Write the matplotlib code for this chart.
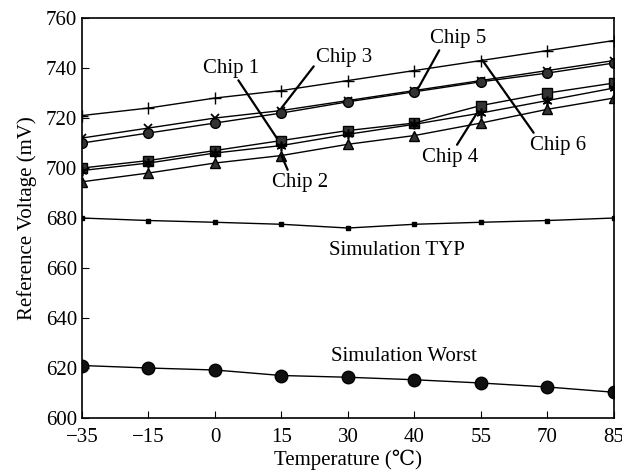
import numpy as np
import matplotlib
matplotlib.use('Agg')
import matplotlib.pyplot as plt

plt.rcParams['font.family'] = ['Liberation Serif', 'DejaVu Serif', 'Noto Sans CJK SC']
plt.rcParams['mathtext.fontset'] = 'stix'

temps = ['\u221235', '\u221215', '0', '15', '30', '40', '55', '70', '85']

chip_plus = [721, 724, 728, 731, 735, 739, 743, 747, 751]
chip_cross = [712, 716, 720, 723, 727, 731, 735, 739, 743]
chip_circle = [710, 714, 718, 722, 726.5, 730.5, 734.5, 738, 742]
chip_square = [700, 703, 707, 711, 715, 718, 725, 730, 734]
chip_star = [699, 702, 706, 709, 713.5, 717.5, 722, 727, 732]
chip_tri = [694.5, 698, 702, 705, 709.5, 713, 718, 723.5, 728]
sim_typ = [680, 679, 678.3, 677.5, 676, 677.5, 678.3, 679, 680]
sim_worst = [621, 620, 619.2, 617, 616.3, 615.3, 614, 612.4, 610.3]

x = np.arange(len(temps))

fig = plt.figure(figsize=(6.22, 4.75), dpi=100)
ax = fig.add_axes([0.1318, 0.12, 0.8552, 0.842])

dark = '#333333'
ax.plot(x, chip_plus, color='black', lw=1, marker='+', ms=8, mew=1)
ax.plot(x, chip_cross, color='black', lw=1, marker='x', ms=6, mew=1.3)
ax.plot(x, chip_circle, color='black', lw=1, marker='o', ms=7, mfc=dark, mec='black')
ax.plot(x, chip_square, color='black', lw=1, marker='s', ms=6.5, mfc=dark, mec='black')
ax.plot(x, chip_star, color='black', lw=1, marker=(6, 2, 0), ms=7, mew=1.2)
ax.plot(x, chip_tri, color='black', lw=1, marker='^', ms=6.5, mfc=dark, mec='black')
ax.plot(x, sim_typ, color='black', lw=1, marker='s', ms=3)
ax.plot(x, sim_worst, color='black', lw=1, marker='o', ms=9, mfc='#111111', mec='black')

fs = 15
arrow = dict(arrowstyle='-', color='black', lw=1.6, shrinkA=0, shrinkB=0)
ax.annotate('Chip 1', xy=(2.93, 712), xytext=(2.24, 740), ha='center', va='center',
            fontsize=fs, arrowprops=dict(arrow, relpos=(0.6, 0)))
ax.annotate('Chip 3', xy=(3.0, 724), xytext=(3.95, 744.4), ha='center', va='center',
            fontsize=fs, arrowprops=dict(arrow, relpos=(0.0, 0.2)))
ax.annotate('Chip 5', xy=(5.05, 731.6), xytext=(5.65, 752), ha='center', va='center',
            fontsize=fs, arrowprops=dict(arrow, relpos=(0.2, 0)))
ax.annotate('Chip 6', xy=(6.02, 743.2), xytext=(7.16, 709.2), ha='center', va='center',
            fontsize=fs, arrowprops=dict(arrow, relpos=(0.1, 1.0)))
ax.annotate('Chip 4', xy=(5.95, 722.4), xytext=(5.53, 704.4), ha='center', va='center',
            fontsize=fs, arrowprops=dict(arrow, relpos=(0.6, 1.0)))
ax.annotate('Chip 2', xy=(3.0, 705), xytext=(3.28, 694.4), ha='center', va='center',
            fontsize=fs, arrowprops=dict(arrow, relpos=(0.3, 1.0)))
ax.text(4.74, 667.2, 'Simulation TYP', ha='center', va='center', fontsize=fs)
ax.text(4.84, 624.8, 'Simulation Worst', ha='center', va='center', fontsize=fs)

ax.set_xlim(0, len(temps) - 1)
ax.set_ylim(600, 760)
ax.set_xticks(x)
ax.set_xticklabels(temps)
ax.set_yticks(np.arange(600, 761, 20))
ax.tick_params(direction='in', length=5, labelsize=fs, top=False, right=False)
ax.tick_params(axis='x', pad=7)
ax.set_xlabel('Temperature (\u2103)', fontsize=fs, labelpad=2)
ax.set_ylabel('Reference Voltage (mV)', fontsize=fs, labelpad=6)
for s in ax.spines.values():
    s.set_linewidth(1.2)

fig.savefig('out.png', dpi=100)
